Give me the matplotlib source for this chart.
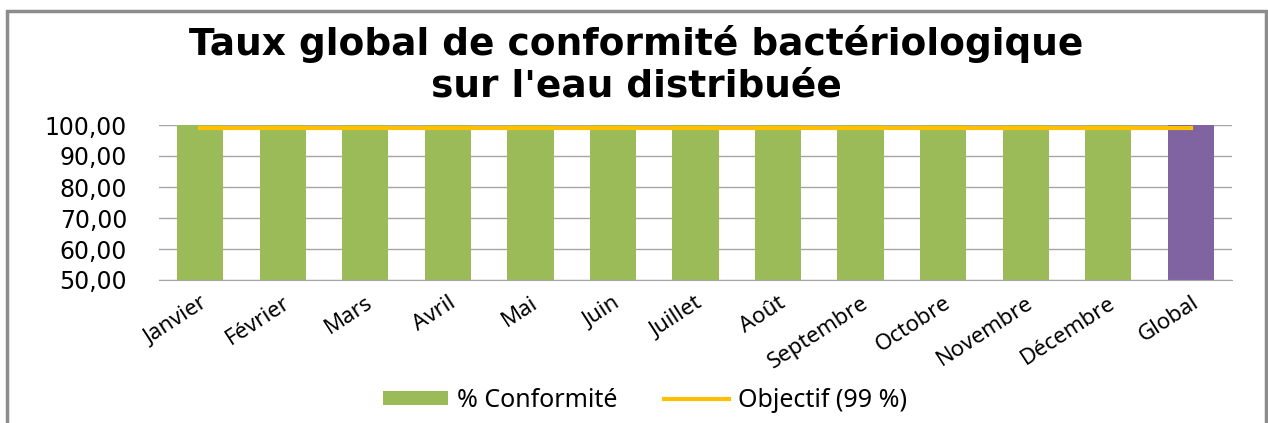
import matplotlib
matplotlib.use("Agg")
import matplotlib.pyplot as plt
from matplotlib.patches import Rectangle
from matplotlib.ticker import FuncFormatter, MultipleLocator

categories = ["Janvier", "Février", "Mars", "Avril", "Mai", "Juin", "Juillet",
              "Août", "Septembre", "Octobre", "Novembre", "Décembre", "Global"]
conformite = [100, 100, 100, 100, 100, 100, 100, 100, 100, 100, 100, 100, 100]
objectif = [99] * len(categories)
title = "Taux global de conformité bactériologique\nsur l'eau distribuée"

W, H = 1268, 423
fig = plt.figure(figsize=(W / 100, H / 100), dpi=100)
ax = fig.add_axes([159 / W, 1 - 280 / H, (1232 - 159) / W, (280 - 125) / H])

x = list(range(len(categories)))
colors = ["#9BBB59"] * (len(categories) - 1) + ["#8064A2"]
bars = ax.bar(x, conformite, width=0.56, color=colors, zorder=2, label="% Conformité")
line, = ax.plot(x, objectif, color="#FFC000", lw=3, zorder=3, label="Objectif (99 %)")

ax.set_xlim(-0.5, len(categories) - 0.5)
ax.set_ylim(50, 100)
ax.yaxis.set_major_locator(MultipleLocator(10))
ax.yaxis.set_major_formatter(FuncFormatter(lambda v, p: f"{v:.2f}".replace(".", ",")))
ax.grid(axis="y", color="#a6a6a6", lw=1, zorder=0)
for s in ["top", "right", "left"]:
    ax.spines[s].set_visible(False)
ax.spines["bottom"].set_color("#a6a6a6")
ax.tick_params(axis="y", length=0, pad=23, labelsize=17)
ax.tick_params(axis="x", length=0, pad=9)
ax.set_xticks(x)
ax.set_xticklabels(categories, rotation=33, ha="right", rotation_mode="anchor",
                   fontsize=16, family="Noto Sans")
for lab in ax.get_yticklabels():
    lab.set_family("DejaVu Sans")

fig.text(0.502, 1 - 65 / H, title, ha="center", va="center", fontsize=27,
         fontweight="bold", family="DejaVu Sans", linespacing=1.2)

fig.legend([bars, line], ["% Conformité", "Objectif (99 %)"],
           loc="center", bbox_to_anchor=(645 / W, 1 - 400 / H), ncol=2, frameon=False,
           prop={"family": "Noto Sans", "size": 18}, handlelength=2.6,
           handleheight=0.5, handletextpad=0.35, columnspacing=1.9)

fig.patches.append(Rectangle((7 / W, -0.1), (1266 - 7) / W, 1.1 - 11 / H,
                             transform=fig.transFigure, fill=False,
                             edgecolor="#8c8c8c", lw=2.5))

fig.savefig("out.png", dpi=100)
